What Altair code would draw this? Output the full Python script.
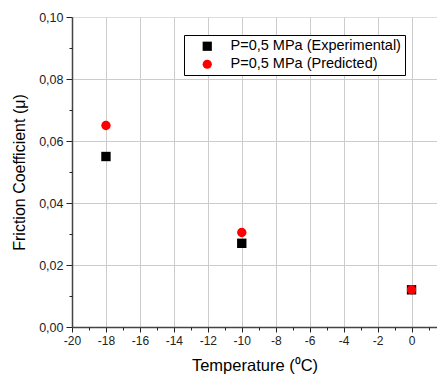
import altair as alt
import pandas as pd

temps = [-18, -10, 0]
experimental = [0.055, 0.027, 0.012]
predicted = [0.065, 0.0305, 0.012]
series = ["P=0,5 MPa (Experimental)", "P=0,5 MPa (Predicted)"]
colors = ["#000000", "#ff0000"]
shapes = ["square", "circle"]
x_major = list(range(-20, 3, 2))
x_minor = list(range(-19, 2, 2))
y_major = [0.0, 0.02, 0.04, 0.06, 0.08, 0.10]
y_minor = [0.01, 0.03, 0.05, 0.07, 0.09]

rows = [{"T": t, "mu": v, "series": series[0]} for t, v in zip(temps, experimental)]
rows += [{"T": t, "mu": v, "series": series[1]} for t, v in zip(temps, predicted)]
df = pd.DataFrame(rows)

FONT = "Liberation Sans"
xs = alt.Scale(domain=[-20, 1.5], nice=False, zero=False)
ys = alt.Scale(domain=[0, 0.1], nice=False, zero=False)

legend = alt.Legend(
    title=None, orient="none", legendX=112, legendY=18,
    strokeColor="black", fillColor="white", padding=4,
    symbolOffset=12, labelOffset=16, rowPadding=3, labelLimit=400,
    labelFontSize=14.5, labelFont=FONT, labelColor="#000",
    symbolSize=85, symbolStrokeWidth=0,
)

points = alt.Chart(df).mark_point(filled=True, opacity=1, size=88).encode(
    x=alt.X("T:Q", scale=xs, axis=alt.Axis(
        orient="bottom", values=x_major, labelExpr="'' + datum.value",
        title="Temperature (⁰C)", titleFontSize=16.5, titleFont=FONT,
        titleFontWeight="normal", titleColor="#000", titlePadding=11,
        grid=True, gridColor="#cccccc", gridWidth=1,
        domainColor="#444", domainWidth=1.5, tickColor="#222", tickSize=5,
        labelFont=FONT, labelFontSize=12, labelColor="#222", labelPadding=3,
        labelOverlap=False, labelFlush=False)),
    y=alt.Y("mu:Q", scale=ys, axis=alt.Axis(
        orient="left", values=y_major,
        labelExpr="replace(format(datum.value, '.2f'), '.', ',')",
        title="Friction Coefficient (μ)", titleFontSize=16, titleFont=FONT,
        titleFontWeight="normal", titleColor="#000", titlePadding=11,
        grid=True, gridColor="#cccccc", gridWidth=1,
        gridOpacity={"condition": {"test": "datum.value > 0.099", "value": 0}, "value": 1},
        domainColor="#444", domainWidth=1.5, tickColor="#222", tickSize=6,
        labelFont=FONT, labelFontSize=12.5, labelColor="#222", labelPadding=3,
        labelOverlap=False, labelFlush=False)),
    color=alt.Color("series:N", scale=alt.Scale(domain=series, range=colors), legend=legend),
    shape=alt.Shape("series:N", scale=alt.Scale(domain=series, range=shapes), legend=legend),
)

minor = alt.Chart(df).mark_point(opacity=0).encode(
    x=alt.X("T:Q", scale=xs, axis=alt.Axis(
        orient="bottom", values=x_minor, labels=False, title=None, grid=False,
        domain=False, tickColor="#222", tickSize=3)),
    y=alt.Y("mu:Q", scale=ys, axis=alt.Axis(
        orient="left", values=y_minor, labels=False, title=None, grid=False,
        domain=False, tickColor="#222", tickSize=3)),
)

chart = alt.layer(points, minor).resolve_axis(x="independent", y="independent").properties(
    width=365, height=310,
    autosize=alt.AutoSizeParams(type="none"),
    padding={"left": 64, "top": 9, "right": 0, "bottom": 50},
).configure_view(stroke=None).configure(background="white")

chart.save("out.html", embed_options={"renderer": "svg", "actions": False})
